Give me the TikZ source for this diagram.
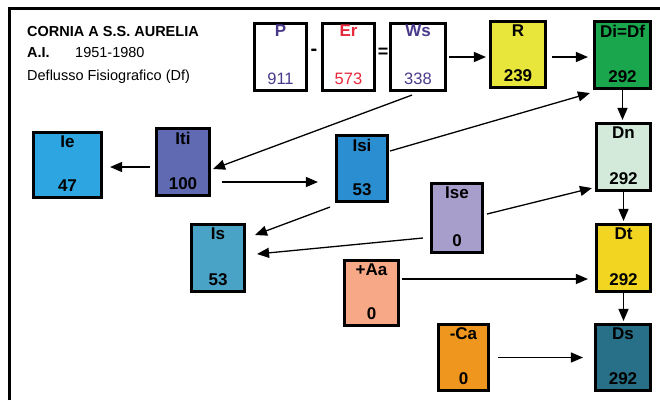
\documentclass[tikz,border=0pt]{standalone}
\usepackage{fontspec}
\setmainfont{Liberation Sans}
\usetikzlibrary{arrows.meta,calc}
\definecolor{cpurp}{HTML}{4B3A8C}
\definecolor{cred}{HTML}{E8283C}
\definecolor{cR}{HTML}{E8E63A}
\definecolor{cDi}{HTML}{19A64C}
\definecolor{cIe}{HTML}{2CA5E0}
\definecolor{cIti}{HTML}{5F6AB2}
\definecolor{cIsi}{HTML}{2B8ED0}
\definecolor{cIs}{HTML}{49A3C6}
\definecolor{cIse}{HTML}{A89ECC}
\definecolor{cAa}{HTML}{F7A886}
\definecolor{cCa}{HTML}{EE961E}
\definecolor{cDn}{HTML}{D3EADB}
\definecolor{cDt}{HTML}{F1D520}
\definecolor{cDs}{HTML}{287087}
\tikzset{
  box/.style={draw=black, line width=2.6pt, inner sep=0pt},
  lbl/.style={font=\fontsize{17}{17}\selectfont\bfseries, inner sep=0pt},
  num/.style={font=\fontsize{16.5}{16.5}\selectfont, inner sep=0pt},
  hdr/.style={font=\fontsize{14.5}{14.5}\selectfont, inner sep=0pt, anchor=base west},
  arr/.style={line width=1.3pt, -{Triangle[length=12pt,width=10pt]}},
}
\newcommand\mkbox[8]{%
  \node[box, fill=#6, minimum width=#4pt, minimum height=#5pt] (#1) at (#2,#3) {};
  \node[lbl] (#1-l) at ($(#1.north)+(0,11)$) {#7};
  \node[lbl] (#1-n) at ($(#1.south)+(0,-13.5)$) {#8};
}
\begin{document}
\begin{tikzpicture}[x=1pt,y=-1pt]
\useasboundingbox (0,0) rectangle (660,400);
% frame
\draw[line width=3pt] (9,400) -- (9,8.7) -- (660,8.7);
% header texts
\node[hdr, font=\fontsize{14.5}{14.5}\selectfont\bfseries] (t1) at (27,36) {CORNIA A S.S. AURELIA};
\node[hdr, font=\fontsize{14.5}{14.5}\selectfont\bfseries] (t2) at (27,57) {A.I.};
\node[hdr] (t3) at (75,57) {1951-1980};
\node[hdr] (t4) at (27,80) {Deflusso Fisiografico (Df)};
% top equation boxes
\node[box, fill=white, minimum width=52.5pt, minimum height=67.5pt] (P) at (280.5,57) {};
\node[lbl, text=cpurp] (P-l) at ($(P.north)+(0,9)$) {P};
\node[num, text=cpurp] (P-n) at ($(P.south)+(0,-13)$) {911};
\node[lbl, font=\fontsize{20}{20}\selectfont\bfseries] (minus) at (314,52) {-};
\node[box, fill=white, minimum width=52.5pt, minimum height=67.5pt] (Er) at (348.5,57) {};
\node[lbl, text=cred] (Er-l) at ($(Er.north)+(0,9)$) {Er};
\node[num, text=cred] (Er-n) at ($(Er.south)+(0,-13)$) {573};
\node[lbl, font=\fontsize{18}{18}\selectfont\bfseries] (eq) at (383,53) {=};
\node[box, fill=white, minimum width=55.5pt, minimum height=67.5pt] (Ws) at (418,57) {};
\node[lbl, text=cpurp] (Ws-l) at ($(Ws.north)+(0,9)$) {Ws};
\node[num, text=cpurp] (Ws-n) at ($(Ws.south)+(0,-13)$) {338};
% coloured boxes
\mkbox{R}{518}{54.5}{55.5}{66.5}{cR}{R}{239}
\mkbox{Di}{622.5}{55}{56.5}{67.5}{cDi}{Di=Df}{292}
\mkbox{Ie}{67.5}{165}{68.5}{65.5}{cIe}{Ie}{47}
\mkbox{Iti}{183}{162}{53.5}{67.5}{cIti}{Iti}{100}
\mkbox{Isi}{362}{168.5}{51.5}{66.5}{cIsi}{Isi}{53}
\mkbox{Ise}{457}{218}{51.5}{69.5}{cIse}{Ise}{0}
\mkbox{Is}{218}{258}{53.5}{67.5}{cIs}{Is}{53}
\mkbox{Aa}{371.5}{293}{54.5}{65.5}{cAa}{+Aa}{0}
\mkbox{Ca}{463.5}{357.5}{50.5}{66.5}{cCa}{-Ca}{0}
\mkbox{Dn}{623.5}{157}{54.5}{67.5}{cDn}{Dn}{292}
\mkbox{Dt}{623.5}{258}{54.5}{67.5}{cDt}{Dt}{292}
\mkbox{Ds}{623}{357.5}{55.5}{66.5}{cDs}{Ds}{292}
% connectors
\draw[arr] ($(Ws.east)+(2,0)$) -- ($(Ws.east -| R.west)+(-3,0)$);
\draw[arr] ($(R.east)+(5,2.5)$) -- ($(R.east -| Di.west)+(-5,2.5)$);
\draw[arr] (Di.south) -- ($(Di.south |- Dn.north)+(0,-2)$);
\draw[arr] (Dn.south) -- ($(Dn.south |- Dt.north)+(0,-2)$);
\draw[arr] (Dt.south) -- ($(Dt.south |- Ds.north)+(0,-2)$);
\draw[arr] ($(Ws.south)+(-6,3)$) -- ($(Iti.east)+(2,7)$);
\draw[arr] ($(Iti.west)+(-5,5)$) -- ($(Ie.east)+(7,2)$);
\draw[arr] ($(Iti.east)+(11,20)$) -- ($(Isi.west)+(-17,13.5)$);
\draw[arr] ($(Isi.east)+(1,-17.5)$) -- ($(Di.south west)+(-3,3)$);
\draw[arr] ($(Isi.south west)+(-5,4)$) -- ($(Is.east)+(9,-23)$);
\draw[arr] ($(Ise.west)+(-7,20)$) -- ($(Is.east)+(11,-4)$);
\draw[arr] ($(Ise.east)+(3,-4)$) -- ($(Dn.south west)+(-3,-4)$);
\draw[arr] ($(Aa.east)+(2,-14)$) -- ($(Dt.west)+(-7,21)$);
\draw[arr] ($(Ca.east)+(8,0)$) -- ($(Ds.west)+(-11,0)$);
\end{tikzpicture}
\end{document}
